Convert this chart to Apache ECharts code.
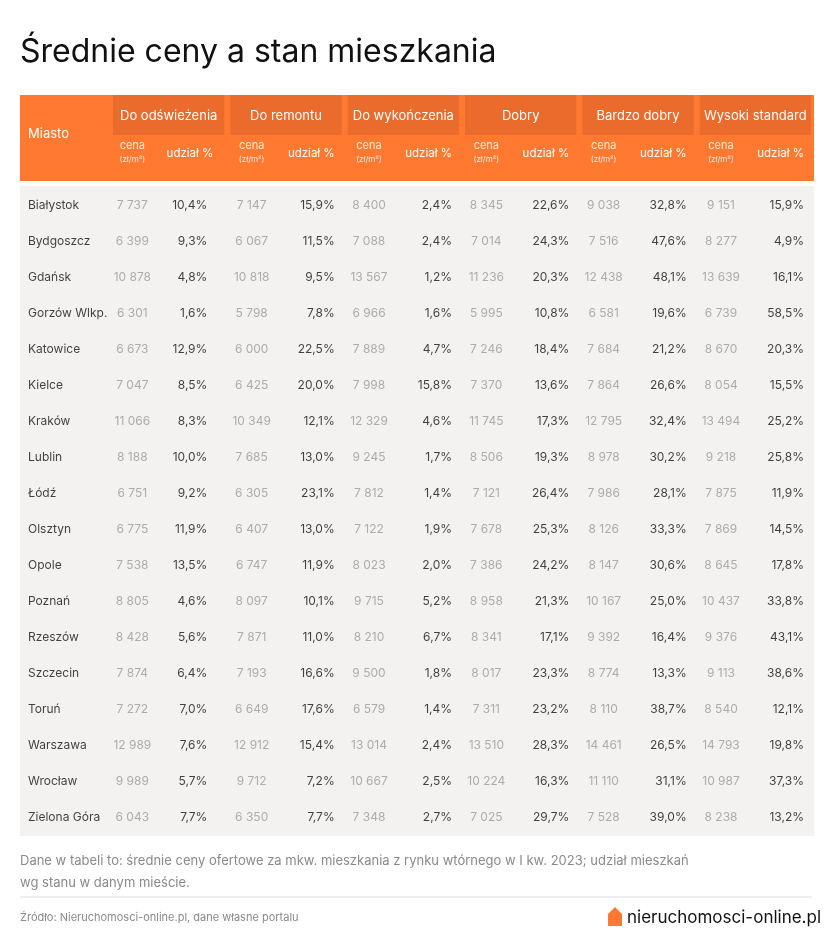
<!DOCTYPE html>
<html><head><meta charset="utf-8">
<script src="https://cdn.jsdelivr.net/npm/echarts@6/dist/echarts.min.js"></script>
<style>body{margin:0;background:#fff}#c{width:830px;height:950px}</style>
</head><body><div id="c"></div>
<script>
const cities = ['Białystok', 'Bydgoszcz', 'Gdańsk', 'Gorzów Wlkp.', 'Katowice', 'Kielce', 'Kraków', 'Lublin', 'Łódź', 'Olsztyn', 'Opole', 'Poznań', 'Rzeszów', 'Szczecin', 'Toruń', 'Warszawa', 'Wrocław', 'Zielona Góra']
const groups = ['Do odświeżenia', 'Do remontu', 'Do wykończenia', 'Dobry', 'Bardzo dobry', 'Wysoki standard']
// ceny zł/m2, kolejno wg grup
const odswiezeniaCena = [7737, 6399, 10878, 6301, 6673, 7047, 11066, 8188, 6751, 6775, 7538, 8805, 8428, 7874, 7272, 12989, 9989, 6043]
const odswiezeniaUdzial = [10.4, 9.3, 4.8, 1.6, 12.9, 8.5, 8.3, 10.0, 9.2, 11.9, 13.5, 4.6, 5.6, 6.4, 7.0, 7.6, 5.7, 7.7]
const remontuCena = [7147, 6067, 10818, 5798, 6000, 6425, 10349, 7685, 6305, 6407, 6747, 8097, 7871, 7193, 6649, 12912, 9712, 6350]
const remontuUdzial = [15.9, 11.5, 9.5, 7.8, 22.5, 20.0, 12.1, 13.0, 23.1, 13.0, 11.9, 10.1, 11.0, 16.6, 17.6, 15.4, 7.2, 7.7]
const wykonczeniaCena = [8400, 7088, 13567, 6966, 7889, 7998, 12329, 9245, 7812, 7122, 8023, 9715, 8210, 9500, 6579, 13014, 10667, 7348]
const wykonczeniaUdzial = [2.4, 2.4, 1.2, 1.6, 4.7, 15.8, 4.6, 1.7, 1.4, 1.9, 2.0, 5.2, 6.7, 1.8, 1.4, 2.4, 2.5, 2.7]
const dobryCena = [8345, 7014, 11236, 5995, 7246, 7370, 11745, 8506, 7121, 7678, 7386, 8958, 8341, 8017, 7311, 13510, 10224, 7025]
const dobryUdzial = [22.6, 24.3, 20.3, 10.8, 18.4, 13.6, 17.3, 19.3, 26.4, 25.3, 24.2, 21.3, 17.1, 23.3, 23.2, 28.3, 16.3, 29.7]
const bdobryCena = [9038, 7516, 12438, 6581, 7684, 7864, 12795, 8978, 7986, 8126, 8147, 10167, 9392, 8774, 8110, 14461, 11110, 7528]
const bdobryUdzial = [32.8, 47.6, 48.1, 19.6, 21.2, 26.6, 32.4, 30.2, 28.1, 33.3, 30.6, 25.0, 16.4, 13.3, 38.7, 26.5, 31.1, 39.0]
const wysokiCena = [9151, 8277, 13639, 6739, 8670, 8054, 13494, 9218, 7875, 7869, 8645, 10437, 9376, 9113, 8540, 14793, 10987, 8238]
const wysokiUdzial = [15.9, 4.9, 16.1, 58.5, 20.3, 15.5, 25.2, 25.8, 11.9, 14.5, 17.8, 33.8, 43.1, 38.6, 12.1, 19.8, 37.3, 13.2]

const cenaCols = [odswiezeniaCena, remontuCena, wykonczeniaCena, dobryCena, bdobryCena, wysokiCena]
const udzialCols = [odswiezeniaUdzial, remontuUdzial, wykonczeniaUdzial, dobryUdzial, bdobryUdzial, wysokiUdzial]

const F = 'Inter, "Noto Sans", sans-serif'
const fmtCena = v => String(v).replace(/\B(?=(\d{3})+(?!\d))/g, ' ')
const fmtPct = v => v.toFixed(1).replace('.', ',') + '%'

const colW = 704 / 12
const cols = []
groups.forEach(g => { cols.push(g + '|cena', g + '|udzial') })

const cenaData = [], udzialData = []
cities.forEach((c, r) => {
    groups.forEach((g, i) => {
        cenaData.push({ value: [g + '|cena', c, cenaCols[i][r]], label: { offset: [i === 0 ? -7 : -5, 0] } })
        udzialData.push({ value: [g + '|udzial', c, udzialCols[i][r]], label: { offset: [colW / 2 - (i === 0 ? 20 : 10), 0] } })
    })
})

const header = []
groups.forEach((g, i) => {
    const x0 = 110 + i * 2 * colW
    header.push({ type: 'rect', shape: { x: x0 + 3, y: 95, width: 2 * colW - 6, height: 40 }, style: { fill: '#ea6b2c' } })
    header.push({ type: 'text', x: x0 + colW, y: 116, style: { text: g, font: '13px ' + F, fill: '#fff', textAlign: 'center', textVerticalAlign: 'middle' } })
    header.push({ type: 'text', x: x0 + colW / 2 - (i === 0 ? 7 : 5), y: 146, style: { text: 'cena', font: '11px ' + F, fill: '#ffe9dc', textAlign: 'center', textVerticalAlign: 'middle' } })
    header.push({ type: 'text', x: x0 + colW / 2 - (i === 0 ? 7 : 5), y: 160, style: { text: '(zł/m²)', font: '8px ' + F, fill: '#ffe9dc', textAlign: 'center', textVerticalAlign: 'middle' } })
    header.push({ type: 'text', x: x0 + 2 * colW - (i === 0 ? 14 : 10), y: 154, style: { text: 'udział %', font: '11.5px ' + F, fill: '#fff', textAlign: 'right', textVerticalAlign: 'middle' } })
})

const chart = echarts.init(document.getElementById('c'))
chart.setOption({
    animation: false,
    graphic: [
        { type: 'text', left: 20, top: 36, style: { text: 'Średnie ceny a stan mieszkania', font: '32px ' + F, fill: '#111' } },
        { type: 'rect', shape: { x: 20, y: 95, width: 794, height: 86 }, style: { fill: '#ff7a30' } },
        { type: 'text', x: 28, y: 134, style: { text: 'Miasto', font: '13px ' + F, fill: '#fff', textVerticalAlign: 'middle' } },
        ...header,
        { type: 'rect', z: -10, shape: { x: 20, y: 186, width: 794, height: 650 }, style: { fill: '#f3f2f0' } },
        { type: 'text', x: 20, y: 850, style: { text: 'Dane w tabeli to: średnie ceny ofertowe za mkw. mieszkania z rynku wtórnego w I kw. 2023; udział mieszkań\nwg stanu w danym mieście.', font: '13px ' + F, fill: '#8a8a8a', lineHeight: 22 } },
        { type: 'line', shape: { x1: 20, y1: 897, x2: 812, y2: 897 }, style: { stroke: '#dcdcdc', lineWidth: 1 } },
        { type: 'text', x: 20, y: 918, style: { text: 'Źródło: Nieruchomosci-online.pl, dane własne portalu', font: '11px ' + F, fill: '#8a8a8a', textVerticalAlign: 'middle' } },
        { type: 'polygon', shape: { points: [[608, 926], [608, 914], [615, 907], [622, 914], [622, 926]] }, style: { fill: '#ff7a30' } },
        { type: 'text', x: 627, y: 918, style: { text: 'nieruchomosci-online.pl', font: '17px ' + F, fill: '#111', textVerticalAlign: 'middle' } }
    ],
    grid: [
        { left: 20, width: 90, top: 187, height: 648 },
        { left: 110, width: 704, top: 187, height: 648 }
    ],
    xAxis: [
        { gridIndex: 0, type: 'category', data: ['Miasto'], show: false },
        { gridIndex: 1, type: 'category', data: cols, show: false }
    ],
    yAxis: [
        { gridIndex: 0, type: 'category', data: cities, inverse: true, show: false },
        { gridIndex: 1, type: 'category', data: cities, inverse: true, show: false }
    ],
    series: [
        {
            type: 'scatter', xAxisIndex: 0, yAxisIndex: 0, symbolSize: 0,
            data: cities.map(c => ['Miasto', c]),
            label: { show: true, position: 'inside', align: 'left', offset: [-37, 0], formatter: p => p.value[1], fontFamily: F, fontSize: 12, color: '#111' }
        },
        {
            type: 'scatter', xAxisIndex: 1, yAxisIndex: 1, symbolSize: 0,
            data: cenaData,
            label: { show: true, position: 'inside', formatter: p => fmtCena(p.value[2]), fontFamily: F, fontSize: 12, color: '#9a9a9a' }
        },
        {
            type: 'scatter', xAxisIndex: 1, yAxisIndex: 1, symbolSize: 0,
            data: udzialData,
            label: { show: true, position: 'inside', align: 'right', formatter: p => fmtPct(p.value[2]), fontFamily: F, fontSize: 12, color: '#111' }
        }
    ]
})
</script>
</body></html>
